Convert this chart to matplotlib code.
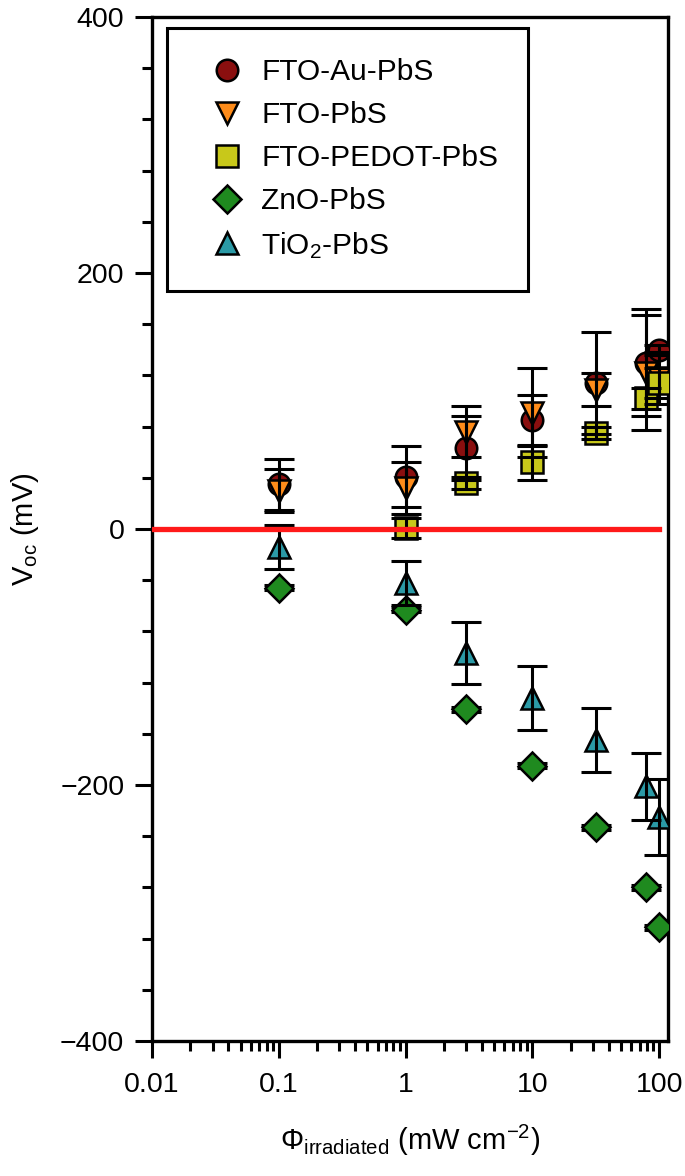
import numpy as np
import matplotlib.pyplot as plt
from matplotlib.ticker import MultipleLocator, LogLocator, NullFormatter, FixedLocator, FixedFormatter

plt.rcParams['font.family'] = ['Liberation Sans', 'DejaVu Sans']
plt.rcParams['mathtext.default'] = 'regular'

# intensitas cahaya (mW cm^-2)
x_all = [0.1, 1, 3.0, 10, 31.6, 78, 100]
x_pedot = [1, 3.0, 10, 31.6, 78, 100]

# Voc (mV) dan error bar
au_voc = [35, 41, 63, 85, 114, 130, 140]
au_err = [20, 24, 25, 20, 40, 42, 4]
fto_voc = [30, 32, 76, 91, 109, 122, 118]
fto_err = [17, 20, 20, 35, 13, 45, 20]
pedot_voc = [1, 36, 52, 75, 102, 114]
pedot_err = [8, 5, 14, 5, 8, 12]
zno_voc = [-46, -63, -141, -185, -233, -280, -311]
zno_err = [2, 2, 2, 2, 2, 2, 2]
tio_voc = [-14, -42, -97, -132, -165, -201, -225]
tio_err = [17, 17, 24, 25, 25, 26, 30]

series = [
    ("FTO-Au-PbS", x_all, au_voc, au_err, 'o', '#8a0f0f'),
    ("FTO-PbS", x_all, fto_voc, fto_err, 'v', '#ff8c1a'),
    ("FTO-PEDOT-PbS", x_pedot, pedot_voc, pedot_err, 's', '#c8c81a'),
    ("ZnO-PbS", x_all, zno_voc, zno_err, 'D', '#1f8a1f'),
    ("TiO$_2$-PbS", x_all, tio_voc, tio_err, '^', '#2b9aa6'),
]

fig = plt.figure(figsize=(6.85, 11.76), dpi=100)
ax = fig.add_axes([0.222, 0.1148, 0.753, 0.8707])

for label, xs, ys, es, m, c in series:
    ms = 14 if m == 'D' else 15.5
    ax.plot(xs, ys, linestyle='none', marker=m, markersize=ms, markerfacecolor=c,
            markeredgecolor='black', markeredgewidth=1.8, label=label, zorder=3)
    # error bar ZnO tertutup marker
    ez = 2 if m == 'D' else 4
    ax.errorbar(xs, ys, yerr=es, fmt='none', ecolor='black', elinewidth=2.2,
                capsize=11, capthick=2.2, zorder=ez)

# garis nol
ax.plot([0.01, 100], [0, 0], color='#ff1a1a', linewidth=3.8, zorder=5)

ax.set_xscale('log')
ax.set_xlim(0.01, 117)
ax.set_ylim(-400, 400)

ax.xaxis.set_major_locator(FixedLocator([0.01, 0.1, 1, 10, 100]))
ax.xaxis.set_major_formatter(FixedFormatter(['0.01', '0.1', '1', '10', '100']))
ax.xaxis.set_minor_locator(LogLocator(base=10, subs=np.arange(2, 10)))
ax.xaxis.set_minor_formatter(NullFormatter())
ax.yaxis.set_major_locator(MultipleLocator(200))
ax.yaxis.set_minor_locator(MultipleLocator(40))

ax.tick_params(axis='both', which='major', direction='out', length=12, width=2.2,
               labelsize=20.5, pad=8)
ax.tick_params(axis='both', which='minor', direction='out', length=7, width=2.2)
ax.tick_params(axis='x', which='major', pad=10)
for s in ax.spines.values():
    s.set_linewidth(2.4)

ax.set_ylabel("V$_{oc}$ (mV)", fontsize=21, labelpad=14)
ax.set_xlabel("\u03a6$_{irradiated}$ (mW cm$^{-2}$)", fontsize=21, labelpad=18)

leg = ax.legend(loc='upper left', bbox_to_anchor=(0.029, 0.989), fontsize=21.5,
                frameon=True, fancybox=False, edgecolor='black', borderpad=1.0,
                labelspacing=0.5, handlelength=2.0, handletextpad=0.15,
                borderaxespad=0)
leg.get_frame().set_linewidth(2.2)
leg.get_frame().set_alpha(1)

plt.savefig('out.png', dpi=100)
